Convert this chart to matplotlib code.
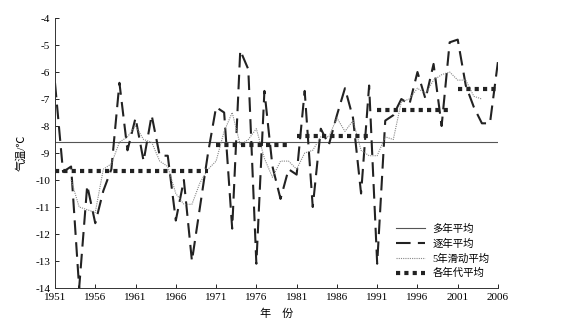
import matplotlib
matplotlib.use("Agg")
import matplotlib.pyplot as plt

plt.rcParams["font.family"] = ["Liberation Serif", "Noto Sans CJK SC", "DejaVu Sans"]
plt.rcParams["axes.unicode_minus"] = False

years = list(range(1951, 2007))
annual = [
    -6.4, -9.7, -9.5, -14.0, -10.2, -11.6, -10.4, -9.6, -6.4, -8.9,
    -7.7, -9.3, -7.6, -9.1, -9.1, -11.5, -10.0, -13.0, -11.0, -9.0,
    -7.3, -7.5, -11.8, -5.2, -5.9, -13.1, -6.7, -9.5, -10.7, -9.6,
    -9.8, -6.7, -11.0, -8.1, -8.7, -7.6, -6.6, -7.7, -10.5, -6.5,
    -13.1, -7.8, -7.6, -7.0, -7.2, -6.0, -7.0, -5.7, -8.0, -4.9,
    -4.8, -6.5, -7.3, -7.9, -7.9, -5.6,
]

ma_years = list(range(1953, 2005))
ma5 = [
    -10.0, -11.0, -11.1, -11.2, -9.6, -9.4, -8.6, -8.4, -8.0, -8.5,
    -8.6, -9.3, -9.5, -10.5, -10.9, -10.9, -10.1, -9.6, -9.3, -8.2,
    -7.5, -8.7, -8.5, -8.1, -9.2, -9.9, -9.3, -9.3, -9.6, -9.0,
    -8.9, -8.4, -8.4, -7.7, -8.2, -7.8, -8.9, -9.1, -9.1, -8.4,
    -8.5, -7.1, -7.0, -6.6, -6.8, -6.3, -6.1, -6.0, -6.3, -6.3,
    -6.9, -7.0,
]

multi_year_mean = -8.58

# 1950s and 1960s means are nearly equal, drawn as one run in the source
decade_starts = [1951, 1971, 1981, 1991, 2001]
decade_ends = [1970, 1980, 1990, 2000, 2006]
decade_means = [-9.68, -8.70, -8.36, -7.42, -6.63]

fig = plt.figure(figsize=(5.74, 3.33), dpi=100)
ax = fig.add_axes([0.0958, 0.1351, 0.7718, 0.8108])

(l_mean,) = ax.plot([years[0], years[-1]], [multi_year_mean, multi_year_mean],
                    color="#555555", lw=0.8, label="多年平均")
(l_annual,) = ax.plot(years, annual, color="#222222", lw=1.5,
                      linestyle=(0, (7, 3.5)), label="逐年平均")
(l_ma,) = ax.plot(ma_years, ma5, color="#888888", lw=0.8,
                  linestyle=(0, (1, 1)), label="5年滑动平均")
l_dec = None
for s, e, m in zip(decade_starts, decade_ends, decade_means):
    (l_dec,) = ax.plot([s, e], [m, m], color="#222222", lw=3,
                       linestyle=(0, (1, 1)), solid_capstyle="butt",
                       dash_capstyle="butt", label="各年代平均")

ax.set_xlim(1951, 2006)
ax.set_ylim(-14, -4)
ax.set_xticks(range(1951, 2007, 5))
ax.set_yticks(range(-14, -3))
ax.tick_params(direction="in", labelsize=8, length=3, width=0.6)
for side in ("top", "right"):
    ax.spines[side].set_visible(False)
for side in ("left", "bottom"):
    ax.spines[side].set_linewidth(0.7)
    ax.spines[side].set_color("#333333")

ax.set_ylabel("气温/℃", fontsize=8, labelpad=6)
ax.set_xlabel("年    份", fontsize=8, labelpad=5)

ax.legend(handles=[l_mean, l_annual, l_ma, l_dec],
          labels=["多年平均", "逐年平均", "5年滑动平均", "各年代平均"],
          loc="lower left", bbox_to_anchor=(0.76, 0.02), frameon=False,
          fontsize=7.5, handlelength=2.8, labelspacing=0.45,
          handletextpad=0.7, borderaxespad=0)

fig.savefig("out.png", dpi=100)
